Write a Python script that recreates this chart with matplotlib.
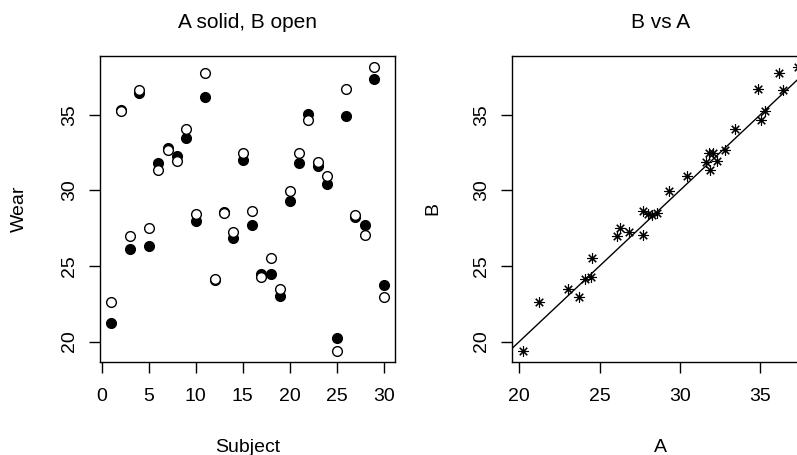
import matplotlib
matplotlib.use('Agg')
import matplotlib.pyplot as plt

plt.rcParams['font.family'] = ['Liberation Sans', 'DejaVu Sans']

subject = list(range(1, 31))
wear_a = [21.2, 35.3, 26.1, 36.45, 26.3, 31.85, 32.8, 32.3, 33.45, 28.0,
          36.2, 24.1, 28.55, 26.85, 32.05, 27.7, 24.45, 24.5, 23.05, 29.3,
          31.8, 35.05, 31.6, 30.45, 20.25, 34.9, 28.25, 27.7, 37.35, 23.75]
wear_b = [22.65, 35.25, 27.0, 36.65, 27.55, 31.35, 32.7, 31.95, 34.05, 28.45,
          37.8, 24.15, 28.5, 27.25, 32.45, 28.65, 24.3, 25.5, 23.45, 29.95,
          32.5, 34.65, 31.9, 30.95, 19.4, 36.7, 28.4, 27.05, 38.15, 22.95]

W, H = 797, 455
fig = plt.figure(figsize=(W / 100, H / 100), dpi=100)

# axes boxes in pixels; the right panel runs off the image like the original
ax1 = fig.add_axes([100.2 / W, (H - 362) / H, 294.4 / W, 306 / H])
ax2 = fig.add_axes([512.3 / W, (H - 362) / H, 296.5 / W, 306 / H])

lo = min(wear_a + wear_b)
hi = max(wear_a + wear_b)
pad = 0.04 * (hi - lo)

ax1.plot(subject, wear_a, 'o', color='black', ms=7, mew=1)
ax1.plot(subject, wear_b, 'o', mfc='white', mec='black', ms=7, mew=1)
ax1.set_xlim(1 - 0.04 * 29, 30 + 0.04 * 29)
ax1.set_ylim(lo - pad, hi + pad)
ax1.set_xticks([0, 5, 10, 15, 20, 25, 30])
ax1.set_yticks([20, 25, 30, 35])

ax2.plot(wear_a, wear_b, ls='none', marker=(8, 2, 0), color='black', ms=7.5, mew=0.8)
alo, ahi = min(wear_a), max(wear_a)
ax2.set_xlim(alo - 0.04 * (ahi - alo), ahi + 0.04 * (ahi - alo))
ax2.set_ylim(lo - pad, hi + pad)
ax2.axline((0, 0), slope=1, color='black', lw=1)
ax2.set_xticks([20, 25, 30, 35])
ax2.set_yticks([20, 25, 30, 35])

for ax in (ax1, ax2):
    for s in ax.spines.values():
        s.set_linewidth(1)
        s.set_color('black')
    ax.tick_params(direction='out', length=8, width=1, labelsize=14)
    ax.tick_params(axis='x', pad=10.8)
    ax.tick_params(axis='y', pad=8)
    for lab in ax.get_yticklabels():
        lab.set_rotation(90)
        lab.set_va('center')

fig.text(247.4 / W, 1 - 28.3 / H, 'A solid, B open', ha='center', va='baseline', fontsize=15)
fig.text(660.5 / W, 1 - 28.3 / H, 'B vs A', ha='center', va='baseline', fontsize=15)
fig.text(247.4 / W, 1 - 451.5 / H, 'Subject', ha='center', va='baseline', fontsize=14)
fig.text(660.5 / W, 1 - 451.5 / H, 'A', ha='center', va='baseline', fontsize=14)
fig.text(24 / W, 1 - 209 / H, 'Wear', ha='center', va='baseline', rotation=90,
         rotation_mode='anchor', fontsize=14)
fig.text(437 / W, 1 - 209 / H, 'B', ha='center', va='baseline', rotation=90,
         rotation_mode='anchor', fontsize=14)

fig.savefig('out.png', dpi=100)
